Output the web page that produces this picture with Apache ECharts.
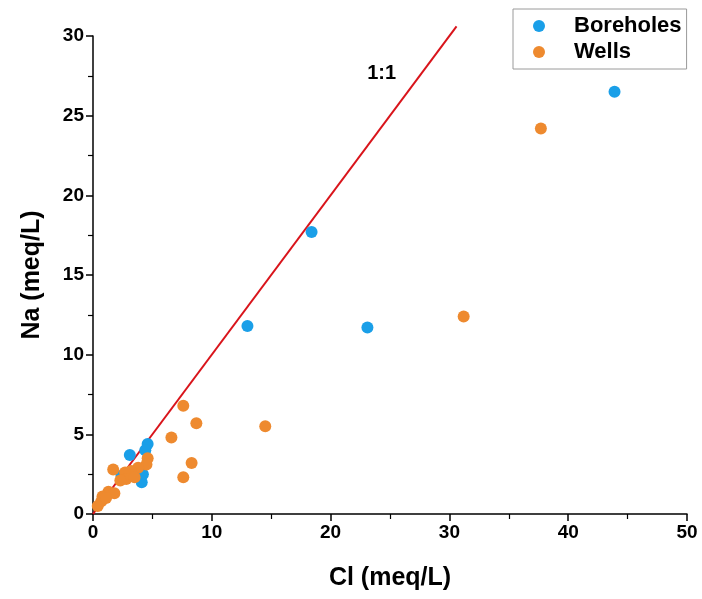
<!DOCTYPE html>
<html>
<head>
<meta charset="utf-8">
<script src="https://cdn.jsdelivr.net/npm/echarts@6/dist/echarts.min.js"></script>
<style>
  html, body { margin: 0; padding: 0; background: #fff; }
  #chart { width: 702px; height: 599px; }
</style>
</head>
<body>
<div id="chart"></div>
<script>
// Cl vs Na (meq/L) for boreholes and wells
const boreholeCl = [43.9, 18.4, 13.0, 23.1, 4.6, 4.4, 3.1, 2.4, 4.1, 4.2];
const boreholeNa = [26.5, 17.7, 11.8, 11.7, 4.4, 4.0, 3.7, 2.4, 2.0, 2.5];

const wellCl = [37.7, 31.2, 14.5, 8.7, 7.6, 6.6, 8.3, 7.6, 4.6, 4.5, 1.7, 3.8, 3.2, 2.7, 2.8, 3.5, 2.3, 1.3, 1.8, 0.8, 0.7, 0.4, 1.1];
const wellNa = [24.2, 12.4, 5.5, 5.7, 6.8, 4.8, 3.2, 2.3, 3.5, 3.1, 2.8, 2.9, 2.7, 2.6, 2.2, 2.3, 2.1, 1.4, 1.3, 1.1, 0.8, 0.5, 1.0];

// 1:1 reference line end points
const refLine = [0, 30.6];

const seriesNames = ['Boreholes', 'Wells'];
const xTicks = [0, 10, 20, 30, 40, 50];
const yTicks = [0, 5, 10, 15, 20, 25, 30];

const FONT = '"Liberation Sans", Arial, sans-serif';
const pairs = (xs, ys) => xs.map((v, i) => [v, ys[i]]);

const chart = echarts.init(document.getElementById('chart'), null, { renderer: 'canvas' });

const axisCommon = {
  axisLine: { show: true, lineStyle: { color: '#000', width: 1.5 } },
  axisTick: { show: true, inside: false, length: 7, lineStyle: { color: '#000', width: 1.5 } },
  minorTick: { show: true, splitNumber: 2, length: 5, lineStyle: { color: '#000', width: 1.2 } },
  splitLine: { show: false },
  axisLabel: { color: '#000', fontFamily: FONT, fontWeight: 'bold', fontSize: 19, margin: 9 },
  nameTextStyle: { color: '#000', fontFamily: FONT, fontWeight: 'bold', fontSize: 25 },
  nameLocation: 'middle'
};

chart.setOption({
  animation: false,
  backgroundColor: '#fff',
  grid: { left: 93, right: 15, top: 36, bottom: 85, containLabel: false },
  legend: {
    data: seriesNames,
    orient: 'vertical',
    left: 513,
    top: 9,
    padding: [5, 5, 5, 20],
    itemGap: 2,
    itemWidth: 50,
    itemHeight: 12,
    icon: 'circle',
    borderColor: '#9a9a9a',
    borderWidth: 1,
    textStyle: { color: '#000', fontFamily: FONT, fontWeight: 'bold', fontSize: 22, lineHeight: 24, padding: [0, 0, 0, 5] }
  },
  xAxis: Object.assign({}, axisCommon, {
    type: 'value', min: xTicks[0], max: xTicks[xTicks.length - 1], interval: 10,
    name: 'Cl (meq/L)', nameGap: 52
  }),
  yAxis: Object.assign({}, axisCommon, {
    type: 'value', min: yTicks[0], max: yTicks[yTicks.length - 1], interval: 5,
    name: 'Na (meq/L)', nameGap: 48
  }),
  series: [
    {
      name: '1:1',
      type: 'line',
      data: [[refLine[0], refLine[0]], [refLine[1], refLine[1]]],
      showSymbol: false,
      symbol: 'none',
      clip: false,
      lineStyle: { color: '#d9141b', width: 2 },
      silent: true,
      z: 3,
      markPoint: {
        symbol: 'circle',
        symbolSize: 0,
        data: [{ coord: [24.3, 27.65] }],
        label: { show: true, formatter: '1:1', position: 'inside', color: '#000', fontFamily: FONT, fontWeight: 'bold', fontSize: 20 }
      }
    },
    {
      name: seriesNames[0],
      type: 'scatter',
      data: pairs(boreholeCl, boreholeNa),
      symbolSize: 12,
      itemStyle: { color: '#1a9fe8', opacity: 1 },
      z: 4
    },
    {
      name: seriesNames[1],
      type: 'scatter',
      data: pairs(wellCl, wellNa),
      symbolSize: 12,
      itemStyle: { color: '#ee8a2f', opacity: 1 },
      z: 5
    }
  ]
});
</script>
</body>
</html>
